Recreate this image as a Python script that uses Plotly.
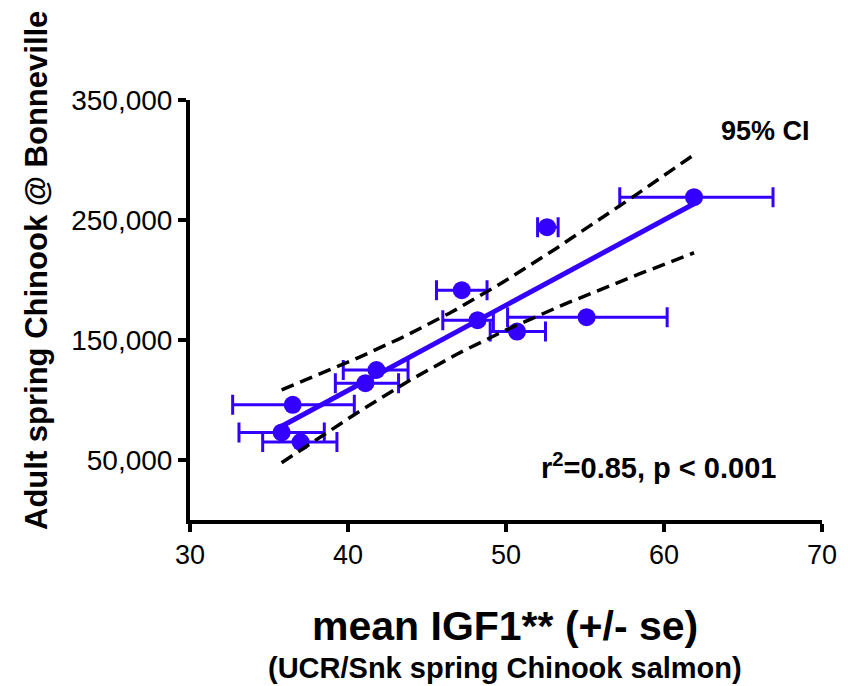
import numpy as np
import plotly.graph_objects as go

# Data
igf1_mean = [61.9, 52.6, 47.2, 48.2, 55.1, 50.7, 41.8, 41.1, 36.5, 35.8, 37.0]
chinook_count = [269000, 244000, 191500, 166500, 169000, 157000, 125000, 114000, 96000, 73000, 65000]
igf1_low = [57.2, 52.0, 45.6, 46.0, 50.1, 49.0, 39.7, 39.2, 32.7, 33.1, 34.6]
igf1_high = [66.9, 53.3, 48.8, 49.2, 60.2, 52.5, 43.8, 43.2, 40.4, 38.5, 39.3]

x_ticks = [30, 40, 50, 60, 70]
y_ticks = [50000, 150000, 250000, 350000]
y_tick_labels = ["50,000", "150,000", "250,000", "350,000"]

BLUE = "#3300ff"
FONT = "Liberation Sans, Arial, sans-serif"

x = np.array(igf1_mean)
y = np.array(chinook_count)
err_plus = np.array(igf1_high) - x
err_minus = x - np.array(igf1_low)

# Linear regression with 95% confidence band
n = len(x)
slope, intercept = np.polyfit(x, y, 1)
xm = x.mean()
sxx = ((x - xm) ** 2).sum()
resid = y - (slope * x + intercept)
s = np.sqrt((resid ** 2).sum() / (n - 2))
t_crit = 2.262  # t(0.975, df=9)
xf = np.linspace(x.min(), x.max(), 60)
yf = slope * xf + intercept
half = t_crit * s * np.sqrt(1.0 / n + (xf - xm) ** 2 / sxx)

fig = go.Figure()
fig.add_trace(go.Scatter(
    x=x, y=y, mode="markers",
    marker=dict(color=BLUE, size=18, symbol="circle"),
    error_x=dict(type="data", array=err_plus, arrayminus=err_minus,
                 color=BLUE, thickness=3, width=10),
    showlegend=False,
))
fig.add_trace(go.Scatter(x=xf, y=yf, mode="lines",
                         line=dict(color=BLUE, width=5), showlegend=False))
fig.add_trace(go.Scatter(x=xf, y=yf + half, mode="lines",
                         line=dict(color="black", width=3.5, dash="13px,7px"), showlegend=False))
fig.add_trace(go.Scatter(x=xf, y=yf - half, mode="lines",
                         line=dict(color="black", width=3.5, dash="13px,7px"), showlegend=False))

axis_common = dict(showline=True, linecolor="black", linewidth=4,
                   ticks="outside", ticklen=8, tickwidth=4, tickcolor="black",
                   showgrid=False, zeroline=False)

fig.update_xaxes(range=[30, 70], tickvals=x_ticks,
                 tickfont=dict(family=FONT, size=27, color="black"), **axis_common)
fig.update_yaxes(range=[0, 350000], tickvals=y_ticks, ticktext=y_tick_labels,
                 tickfont=dict(family=FONT, size=28, color="black"), **axis_common)

annotations = [
    dict(text="<b>95% CI</b>", x=0.910, y=0.926, font=dict(size=27)),
    dict(text="<b>r<sup>2</sup>=0.85, p < 0.001</b>", x=0.741, y=0.129, font=dict(size=29)),
    dict(text="<b>mean IGF1** (+/- se)</b>", x=0.498, y=-0.252, font=dict(size=41)),
    dict(text="<b>(UCR/Snk spring Chinook salmon)</b>", x=0.498, y=-0.352, font=dict(size=29)),
    dict(text="<b>Adult spring Chinook @ Bonneville</b>", x=-0.242, y=0.593,
         textangle=-90, font=dict(size=31)),
]
for a in annotations:
    a.update(xref="paper", yref="paper", showarrow=False,
             xanchor="center", yanchor="middle")
    a["font"].update(family=FONT, color="black")

fig.update_layout(
    width=848, height=686,
    margin=dict(l=190, r=26, t=100, b=166),
    paper_bgcolor="white", plot_bgcolor="white",
    annotations=annotations,
    font=dict(family=FONT, color="black"),
)

fig.write_html("out.html")
